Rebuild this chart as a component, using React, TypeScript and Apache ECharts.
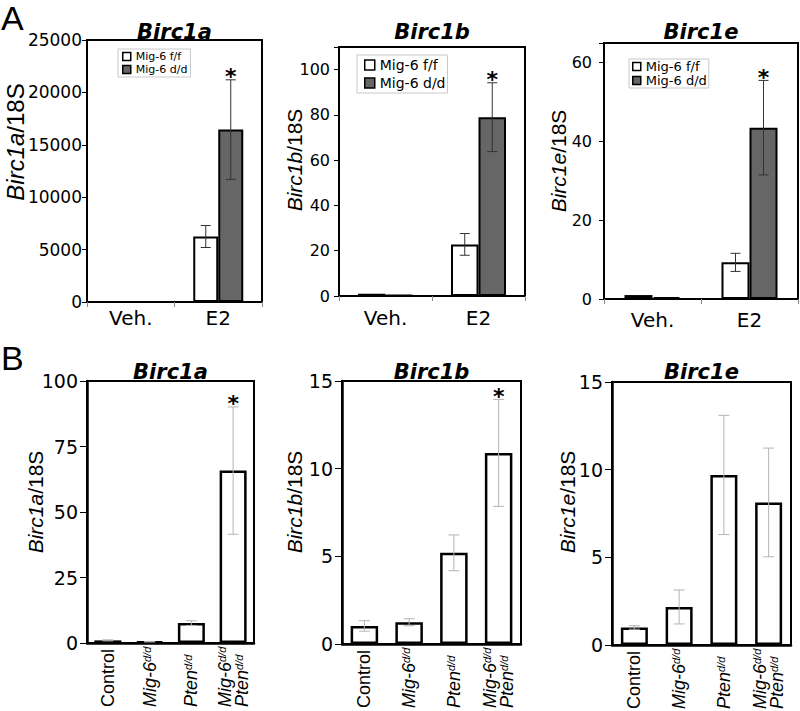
import React, { useEffect, useRef } from "react";
import * as echarts from "echarts";

// ---------- data ----------
const groupsA = ["Veh.", "E2"];
const legendA = ["Mig-6 f/f", "Mig-6 d/d"];
const genes = ["Birc1a", "Birc1b", "Birc1e"];

// Panel A: Birc1a
const a1Wt = [1, 6250];
const a1WtErr = [0, 1050];
const a1Ko = [0.5, 16450];
const a1KoErr = [0, 4750];
// Panel A: Birc1b
const a2Wt = [1.0, 22.8];
const a2WtErr = [0, 4.8];
const a2Ko = [0.5, 79];
const a2KoErr = [0, 15.2];
// Panel A: Birc1e
const a3Wt = [1.0, 9.3];
const a3WtErr = [0, 2.3];
const a3Ko = [0.5, 43.5];
const a3KoErr = [0, 12];
const aKoSig = [0, 1];

// Panel B
const groupsB = ["Control", "Mig-6^d/d", "Pten^d/d", "Mig-6^d/d\nPten^d/d"];
const b1 = [1.0, 0.5, 7.6, 65.8];
const b1Err = [0.2, 0.1, 0.9, 24.3];
const b1Sig = [0, 0, 0, 1];
const b2 = [1.03, 1.24, 5.2, 10.9];
const b2Err = [0.3, 0.2, 1.02, 3.05];
const b2Sig = [0, 0, 0, 1];
const b3 = [1.0, 2.17, 9.7, 8.13];
const b3Err = [0.1, 0.97, 3.4, 3.1];
const b3Sig = [0, 0, 0, 0];

// axis ranges
const yMaxA = [25000, 110, 65];
const yStepA = [5000, 20, 20];
const yMaxB = [100, 15, 15];
const yStepB = [25, 5, 5];

// ---------- styling / layout ----------
const FH = "DejaVu Sans";
const FR = "Liberation Sans";

const grids = [
  { left: 87, top: 40, width: 175, height: 262 },
  { left: 339, top: 47, width: 186, height: 249 },
  { left: 604, top: 43, width: 194, height: 256 },
  { left: 87, top: 381, width: 167, height: 262 },
  { left: 342, top: 381, width: 179, height: 263 },
  { left: 612, top: 382, width: 179, height: 263 },
];
const barWA = [25, 27.5, 28];
const barWB = [27, 27.5, 27];
// y-axis title placement (centre of rotated text) and size
const yTitlePos = [
  { x: 15, y: 142, size: 24 },
  { x: 294, y: 160, size: 21 },
  { x: 558, y: 161, size: 21 },
  { x: 35, y: 502, size: 21 },
  { x: 294, y: 502, size: 21 },
  { x: 567, y: 502, size: 21 },
];

function errSeries(name: string, idx: number, vals: number[], errs: number[], sig: number[] | null, offset: number, color: string, capHalf: number) {
  return {
    type: "custom",
    name,
    xAxisIndex: idx,
    yAxisIndex: idx,
    z: 5,
    clip: false,
    silent: true,
    encode: { x: 0, y: 1 },
    data: vals.map((v, i) => [i, v, errs[i], sig ? sig[i] : 0]),
    renderItem: (params: any, api: any) => {
      const i = api.value(0);
      const v = api.value(1);
      const e = api.value(2);
      const s = api.value(3);
      const top = api.coord([i, v + e]);
      const bot = api.coord([i, v - e]);
      const cx = top[0] + offset;
      const children: any[] = [];
      if (e > 0) {
        children.push({ type: "line", shape: { x1: cx, y1: top[1], x2: cx, y2: bot[1] }, style: { stroke: color, lineWidth: 1 } });
        children.push({ type: "line", shape: { x1: cx - capHalf, y1: top[1], x2: cx + capHalf, y2: top[1] }, style: { stroke: color, lineWidth: 1 } });
        children.push({ type: "line", shape: { x1: cx - capHalf, y1: bot[1], x2: cx + capHalf, y2: bot[1] }, style: { stroke: color, lineWidth: 1 } });
      }
      if (s) {
        children.push({
          type: "text",
          x: cx,
          y: top[1] - 3,
          style: { text: "*", fill: "#000", fontSize: 22, fontWeight: "bold", fontFamily: FH, align: "center", verticalAlign: "middle" },
        });
      }
      return { type: "group", children };
    },
  };
}

function bLabel(v: string) {
  return v
    .split("\n")
    .map((line) => {
      if (line.indexOf("^") >= 0) {
        const [base, sup] = line.split("^");
        return "{i|" + base + "}{s|" + sup + "}";
      }
      return "{n|" + line + "}";
    })
    .join("\n");
}

export default function App() {
  const ref = useRef<HTMLDivElement>(null);
  useEffect(() => {
    if (!ref.current) return;
    const chart = echarts.init(ref.current, null, { renderer: "svg" });

    const aSets = [
      [a1Wt, a1WtErr, a1Ko, a1KoErr],
      [a2Wt, a2WtErr, a2Ko, a2KoErr],
      [a3Wt, a3WtErr, a3Ko, a3KoErr],
    ];
    const bSets = [
      [b1, b1Err, b1Sig],
      [b2, b2Err, b2Sig],
      [b3, b3Err, b3Sig],
    ];

    const aLabelMargin = [6, 12, 11];
    const aTickMargin = [5, 9, 12];
    const aTickSize = [17, 16, 16];
    const legendPos = [
      { left: 118, top: 49, fontSize: 11, padding: [2, 3, 2, 4], itemGap: 2, iw: 8 },
      { left: 357, top: 55, fontSize: 14, padding: [3, 2, 3, 7], itemGap: 4, iw: 10 },
      { left: 629, top: 59, fontSize: 13, padding: [1, 2, 1, 3], itemGap: 1, iw: 8 },
    ];

    const xAxis: any[] = [];
    const yAxis: any[] = [];
    const series: any[] = [];
    const title: any[] = [];
    const legend: any[] = [];

    for (let k = 0; k < 3; k++) {
      xAxis.push({
        type: "category",
        gridIndex: k,
        data: groupsA,
        axisLine: { lineStyle: { color: "#000", width: 2 } },
        axisTick: { show: true, length: 5, lineStyle: { color: "#888" } },
        axisLabel: { color: "#000", fontFamily: FH, fontSize: 20, margin: aLabelMargin[k] },
      });
      yAxis.push({
        type: "value",
        gridIndex: k,
        min: 0,
        max: yMaxA[k],
        interval: yStepA[k],
        splitLine: { show: false },
        axisLine: { show: true, lineStyle: { color: "#000", width: 2 } },
        axisTick: { show: true, length: 5, lineStyle: { color: "#000" } },
        axisLabel: {
          color: "#000",
          fontFamily: FH,
          fontSize: aTickSize[k],
          margin: aTickMargin[k],
          formatter: (v: number) => (v % yStepA[k] === 0 ? String(v) : ""),
        },
      });
      const [wt, wtE, ko, koE] = aSets[k];
      series.push({
        type: "bar",
        name: legendA[0],
        xAxisIndex: k,
        yAxisIndex: k,
        data: wt,
        barWidth: barWA[k],
        barGap: "0%",
        itemStyle: { color: "#ffffff", borderColor: "#000", borderWidth: 2 },
      });
      series.push({
        type: "bar",
        name: legendA[1],
        xAxisIndex: k,
        yAxisIndex: k,
        data: ko,
        barWidth: barWA[k],
        barGap: "0%",
        itemStyle: { color: "#666666", borderColor: "#000", borderWidth: 2 },
      });
      series.push(errSeries("errWt" + k, k, wt, wtE, null, -barWA[k] / 2, "#333", 5));
      series.push(errSeries("errKo" + k, k, ko, koE, aKoSig, barWA[k] / 2, "#333", 5));

      const g = grids[k];
      title.push({
        text: genes[k],
        left: g.left + g.width / 2,
        top: 21,
        textAlign: "center",
        padding: 0,
        textStyle: { fontFamily: FH, fontStyle: "italic", fontWeight: "bold", fontSize: 21, color: "#000" },
      });
      const lp = legendPos[k];
      legend.push({
        data: legendA,
        orient: "vertical",
        left: lp.left,
        top: lp.top,
        padding: lp.padding,
        itemGap: lp.itemGap,
        itemWidth: lp.iw,
        itemHeight: lp.iw,
        icon: "rect",
        selectedMode: false,
        backgroundColor: "#fff",
        borderColor: "#c8c8c8",
        borderWidth: 1,
        borderRadius: 0,
        itemStyle: { borderColor: "#000", borderWidth: 1.5 },
        textStyle: { fontFamily: FH, fontSize: lp.fontSize, color: "#000" },
      });
    }

    for (let k = 0; k < 3; k++) {
      const gi = k + 3;
      xAxis.push({
        type: "category",
        gridIndex: gi,
        data: groupsB,
        axisLine: { lineStyle: { color: "#000", width: 2.5 } },
        axisTick: { show: false },
        axisLabel: {
          interval: 0,
          rotate: 90,
          align: "left",
          verticalAlign: "middle",
          margin: 64,
          color: "#000",
          formatter: (v: string) => bLabel(v),
          rich: {
            n: { fontFamily: FR, fontSize: 18, color: "#000", lineHeight: 17 },
            i: { fontFamily: FR, fontSize: 18, fontStyle: "italic", color: "#000", lineHeight: 17 },
            s: { fontFamily: FR, fontSize: 11, fontStyle: "italic", color: "#000", verticalAlign: "top", lineHeight: 11 },
          },
        },
      });
      yAxis.push({
        type: "value",
        gridIndex: gi,
        min: 0,
        max: yMaxB[k],
        interval: yStepB[k],
        splitLine: { show: false },
        axisLine: { show: true, lineStyle: { color: "#000", width: 2.5 } },
        axisTick: { show: true, length: 7, lineStyle: { color: "#000" } },
        axisLabel: { color: "#000", fontFamily: FH, fontSize: 19, margin: 9 },
      });
      const [vals, errs, sig] = bSets[k];
      series.push({
        type: "bar",
        name: "B" + k,
        xAxisIndex: gi,
        yAxisIndex: gi,
        data: vals,
        barWidth: barWB[k],
        itemStyle: { color: "#ffffff", borderColor: "#000", borderWidth: 2.5 },
      });
      series.push(errSeries("errB" + k, gi, vals, errs, sig, 0, "#b4b4b4", 5.5));
      const g = grids[gi];
      title.push({
        text: genes[k],
        left: g.left + g.width / 2,
        top: 361,
        textAlign: "center",
        padding: 0,
        textStyle: { fontFamily: FH, fontStyle: "italic", fontWeight: "bold", fontSize: 21, color: "#000" },
      });
    }

    title.push({ text: "A", left: 1, top: 1, padding: 0, textStyle: { fontFamily: FR, fontWeight: "normal", fontSize: 34, color: "#000" } });
    title.push({ text: "B", left: 1, top: 341, padding: 0, textStyle: { fontFamily: FR, fontWeight: "normal", fontSize: 34, color: "#000" } });

    // rotated y-axis titles
    const graphic = yTitlePos.map((p, idx) => ({
      type: "text",
      x: p.x,
      y: p.y,
      rotation: Math.PI / 2,
      silent: true,
      style: {
        text: "{i|" + genes[idx % 3] + "}/18S",
        fill: "#000",
        fontFamily: FR,
        fontSize: p.size,
        align: "center",
        verticalAlign: "middle",
        rich: { i: { fontFamily: FR, fontSize: p.size, fontStyle: "italic", fill: "#000" } },
      },
    }));

    chart.setOption({
      animation: false,
      backgroundColor: "#fff",
      title,
      legend,
      graphic,
      grid: grids.map((g) => ({
        ...g,
        show: true,
        borderColor: "#000",
        borderWidth: 2,
        backgroundColor: "transparent",
        containLabel: false,
        outerBoundsMode: "none",
      })),
      xAxis,
      yAxis,
      series,
    });
    return () => chart.dispose();
  }, []);
  return <div ref={ref} style={{ position: "absolute", left: 0, top: 0, width: 800, height: 711 }} />;
}
